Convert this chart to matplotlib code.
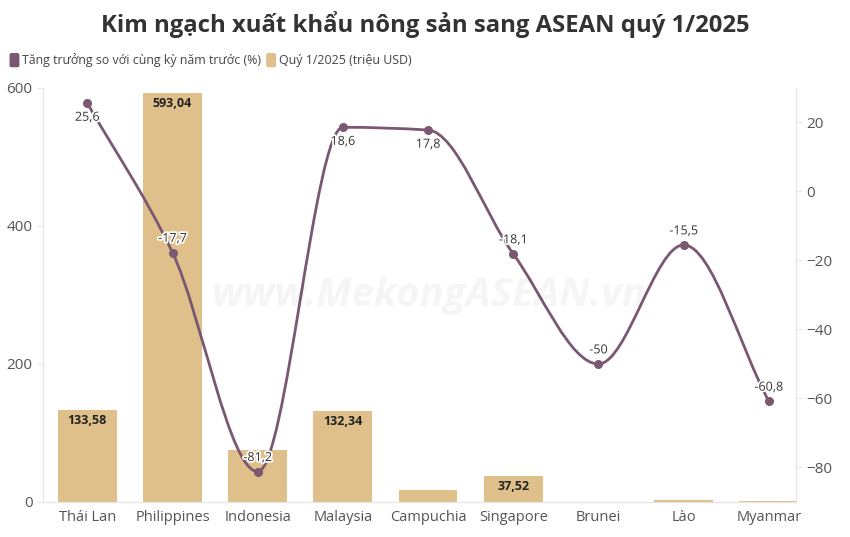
import numpy as np
import matplotlib
matplotlib.use("Agg")
import matplotlib.pyplot as plt
from matplotlib.path import Path
from matplotlib.patches import PathPatch, FancyBboxPatch
import matplotlib.patheffects as pe

plt.rcParams['font.family'] = ['Open Sans', 'DejaVu Sans']

countries = ["Thái Lan", "Philippines", "Indonesia", "Malaysia", "Campuchia",
             "Singapore", "Brunei", "Lào", "Myanmar"]
value_musd = [133.58, 593.04, 75.0, 132.34, 18.0, 37.52, 0.5, 3.5, 2.0]
bar_labels = ["133,58", "593,04", "", "132,34", "", "37,52", "", "", ""]
growth_pct = [25.6, -17.7, -81.2, 18.6, 17.8, -18.1, -50.0, -15.5, -60.8]
growth_labels = ["25,6", "-17,7", "-81,2", "18,6", "17,8", "-18,1", "-50", "-15,5", "-60,8"]
growth_below = [True, False, False, True, True, False, False, False, False]

BAR_COLOR = "#dfc08a"
LINE_COLOR = "#7b5871"
AXIS_COLOR = "#e6e6e6"
TEXT_COLOR = "#555555"


def monotone_path(x, y):
    # Fritsch-Carlson monotone cubic as bezier segments
    x = np.asarray(x, float)
    y = np.asarray(y, float)
    n = len(x)
    d = np.diff(y) / np.diff(x)
    m = np.zeros(n)
    m[0], m[-1] = d[0], d[-1]
    for i in range(1, n - 1):
        if d[i - 1] * d[i] <= 0:
            m[i] = 0
        else:
            m[i] = 2 / (1 / d[i - 1] + 1 / d[i])
    verts = [(x[0], y[0])]
    codes = [Path.MOVETO]
    for i in range(n - 1):
        h = x[i + 1] - x[i]
        verts += [(x[i] + h / 3, y[i] + m[i] * h / 3),
                  (x[i + 1] - h / 3, y[i + 1] - m[i + 1] * h / 3),
                  (x[i + 1], y[i + 1])]
        codes += [Path.CURVE4] * 3
    return Path(verts, codes)


fig = plt.figure(figsize=(8.5, 5.37), dpi=100)
ax = fig.add_axes([0.0506, 0.0652, 0.886, 0.771])
ax2 = ax.twinx()

xs = np.arange(len(countries))
ax.bar(xs, value_musd, width=0.69, color=BAR_COLOR, zorder=2)
for xi, v, lab in zip(xs, value_musd, bar_labels):
    if lab:
        ax.text(xi, v - 6, lab, ha="center", va="top", fontsize=9,
                fontweight="bold", color="#222222", zorder=3)

ax.set_xlim(-0.52, 8.32)
ax.set_ylim(0, 600)
ax.set_yticks([0, 200, 400, 600])
ax2.set_ylim(-90, 30)
ax2.set_yticks([-80, -60, -40, -20, 0, 20])

ax2.add_patch(PathPatch(monotone_path(xs, growth_pct), fill=False,
                        edgecolor=LINE_COLOR, lw=2, zorder=4))
ax2.scatter(xs, growth_pct, s=30, color=LINE_COLOR, zorder=5)
for xi, g, lab, below in zip(xs, growth_pct, growth_labels, growth_below):
    ax2.text(xi, g + (-2.2 if below else 2.2), lab, ha="center",
             va="top" if below else "bottom", fontsize=9, color="#333333",
             zorder=6, path_effects=[pe.withStroke(linewidth=2.5, foreground="white")])

for a in (ax, ax2):
    a.spines["top"].set_visible(False)
    for s in ("left", "right", "bottom"):
        a.spines[s].set_color(AXIS_COLOR)
    a.tick_params(axis="y", length=4, color=AXIS_COLOR, labelsize=11,
                  labelcolor=TEXT_COLOR)
ax.tick_params(axis="x", length=0, labelsize=10.5, labelcolor=TEXT_COLOR, pad=6)
ax.set_xticks(xs)
ax.set_xticklabels(countries)
ax.set_zorder(ax2.get_zorder() - 1)
ax2.patch.set_visible(False)

fig.text(0.5, 0.955, "Kim ngạch xuất khẩu nông sản sang ASEAN quý 1/2025",
         ha="center", va="center", fontsize=17.2, fontweight="bold", color="#333333")
fig.text(0.505, 0.45, "www.MekongASEAN.vn", ha="center", va="center",
         fontsize=29, fontstyle="italic", fontweight="bold", color="#000000", alpha=0.04)

# legend
ly = 0.888
legend_items = [(0.012, LINE_COLOR, "Tăng trưởng so với cùng kỳ năm trước (%)"),
                (0.314, BAR_COLOR, "Quý 1/2025 (triệu USD)")]
for lx, col, txt in legend_items:
    fig.patches.append(FancyBboxPatch(
        (lx, ly - 0.012), 0.010, 0.024, boxstyle="round,pad=0,rounding_size=0.002",
        transform=fig.transFigure, color=col))
    fig.text(lx + 0.014, ly, txt, va="center", fontsize=8.9, color="#444444")

fig.savefig("out.png", dpi=100)
